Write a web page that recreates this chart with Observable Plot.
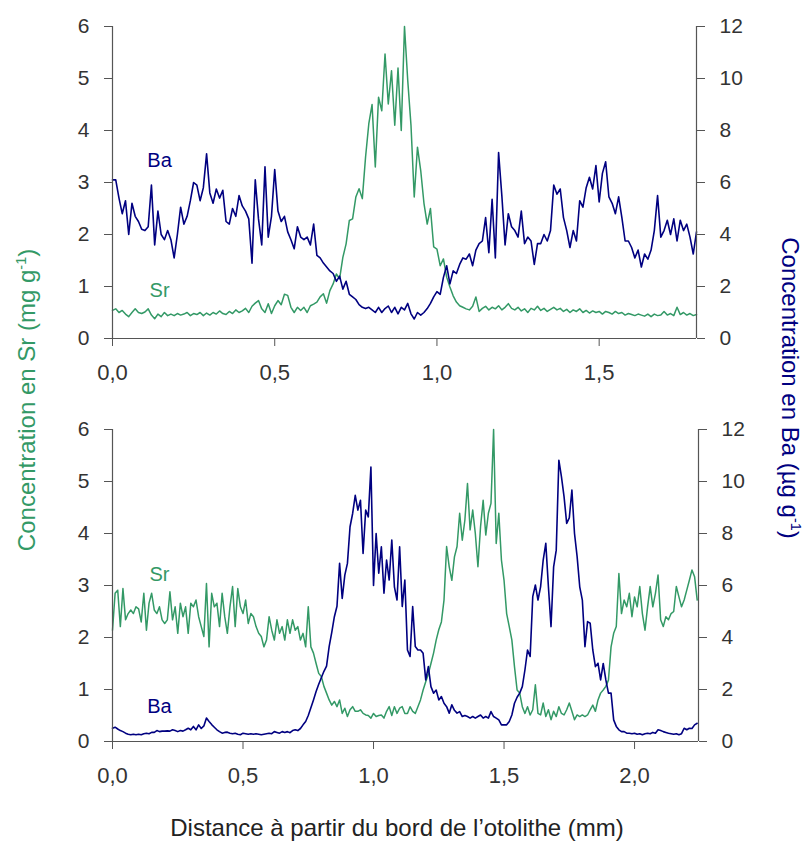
<!DOCTYPE html>
<html>
<head>
<meta charset="utf-8">
<script src="https://cdn.jsdelivr.net/npm/d3@7"></script>
<script src="https://cdn.jsdelivr.net/npm/@observablehq/plot@0.6"></script>
<style>
  body { margin: 0; background: #fff; }
  #chart { position: relative; width: 806px; height: 845px; font-family: "Liberation Sans", Arial, sans-serif; background: #fff; }
  .panel { position: absolute; left: 0; }
  .title { position: absolute; white-space: nowrap; font-size: 24px; line-height: 1; }
  .title sup { font-size: 0.6em; line-height: 0; }
</style>
</head>
<body>
<div id="chart"></div>
<script>
// Sampling step along the transect (mm)
const STEP = 0.01;

// ---- Top panel: Sr (mg/g) and Ba (µg/g), 0 – 1.8 mm ----
const srTop = [
  0.54,0.57,0.50,0.54,0.47,0.42,0.50,0.57,0.50,0.48,
  0.51,0.57,0.45,0.38,0.47,0.42,0.50,0.44,0.47,0.44,
  0.48,0.45,0.47,0.50,0.44,0.48,0.46,0.50,0.44,0.49,
  0.45,0.50,0.47,0.53,0.48,0.46,0.52,0.48,0.55,0.50,
  0.53,0.58,0.50,0.62,0.68,0.73,0.57,0.50,0.67,0.48,
  0.63,0.73,0.65,0.85,0.83,0.60,0.50,0.60,0.54,0.60,
  0.50,0.63,0.66,0.70,0.80,0.86,0.68,0.92,1.05,1.24,
  1.15,1.56,1.82,2.27,2.30,2.72,2.88,2.69,3.49,4.13,
  4.50,3.30,4.64,4.38,5.47,4.51,5.15,4.10,5.20,4.00,
  6.00,4.96,4.10,2.72,3.68,3.23,2.60,2.20,2.50,1.76,
  1.72,1.40,1.53,1.18,0.99,0.82,0.70,0.63,0.60,0.57,
  0.55,0.62,0.80,0.52,0.58,0.62,0.55,0.60,0.57,0.63,
  0.55,0.60,0.67,0.58,0.55,0.60,0.53,0.57,0.50,0.58,
  0.55,0.62,0.54,0.58,0.52,0.56,0.60,0.55,0.58,0.52,
  0.56,0.50,0.55,0.52,0.57,0.50,0.54,0.49,0.53,0.50,
  0.52,0.47,0.52,0.50,0.47,0.52,0.48,0.50,0.45,0.48,
  0.46,0.44,0.47,0.45,0.43,0.47,0.42,0.47,0.44,0.45,
  0.52,0.45,0.48,0.44,0.60,0.46,0.50,0.45,0.48,0.44,
  0.46
];
const baTop = [
  6.1,6.1,5.4,4.8,5.3,4.0,5.2,4.7,4.5,4.2,
  4.15,4.3,5.9,3.6,4.9,4.0,3.8,4.15,3.8,3.1,
  4.0,5.05,4.4,4.7,5.3,6.0,5.9,5.3,5.8,7.1,
  5.6,5.2,5.75,5.4,5.7,4.5,4.4,5.0,4.7,5.5,
  5.1,4.9,4.6,2.9,6.1,4.6,3.6,6.6,3.9,4.7,
  6.5,4.9,4.5,4.7,4.1,3.8,3.45,4.3,3.9,3.8,
  3.9,3.6,4.4,3.2,3.1,2.9,2.75,2.6,2.5,2.2,
  2.4,1.9,2.2,1.7,1.6,1.5,1.3,1.2,1.15,1.2,
  1.1,1.0,1.2,1.0,1.15,1.25,1.0,1.2,0.95,1.2,
  1.1,1.35,0.95,0.75,1.0,0.9,1.0,1.15,1.35,1.6,
  1.8,1.7,2.35,2.8,2.1,2.6,2.5,2.85,3.1,3.05,
  3.25,2.8,3.4,3.65,3.75,4.65,3.3,5.35,3.1,7.15,
  5.5,3.6,4.8,4.3,4.15,3.9,4.9,3.65,3.9,3.75,
  2.85,3.65,3.65,4.0,3.75,4.15,5.9,5.55,5.75,4.65,
  4.15,3.5,4.15,3.75,5.3,5.05,5.8,6.2,5.75,6.65,
  5.25,6.35,6.8,5.45,5.2,4.8,5.45,4.65,3.75,3.75,
  3.5,3.1,3.4,2.75,3.25,3.05,3.4,4.15,5.5,3.9,
  4.15,4.55,4.0,4.6,3.75,4.55,4.15,4.4,3.9,3.25,
  4.1
];

// ---- Bottom panel: Sr (mg/g) and Ba (µg/g), 0 – 2.24 mm ----
const srBottom = [
  2.14,2.85,2.91,2.21,2.94,2.34,2.46,2.53,2.46,2.59,
  2.55,2.30,2.85,2.14,2.66,2.85,2.53,2.46,2.59,2.34,
  2.27,2.34,2.88,2.34,2.59,2.08,2.66,2.40,2.59,2.08,
  2.66,2.59,2.72,2.40,2.21,2.02,3.04,1.82,2.85,2.59,
  2.66,2.21,2.85,2.40,2.08,2.59,2.98,2.21,2.94,2.59,
  2.46,2.72,2.27,2.46,2.40,2.21,2.08,2.02,1.82,1.95,
  2.40,2.14,1.95,2.34,2.08,2.21,1.95,2.34,2.08,2.34,
  2.14,2.21,1.95,2.08,1.82,2.59,1.82,1.70,1.50,1.31,
  1.25,1.06,0.93,0.80,0.70,0.77,0.67,0.80,0.54,0.64,
  0.48,0.61,0.67,0.58,0.58,0.61,0.54,0.51,0.50,0.45,
  0.54,0.48,0.50,0.51,0.45,0.58,0.67,0.50,0.67,0.54,
  0.64,0.67,0.54,0.54,0.67,0.58,0.54,0.67,0.80,0.99,
  1.15,1.30,1.50,1.70,1.95,2.15,2.30,2.72,3.75,3.36,
  3.10,3.55,3.75,4.39,3.87,4.26,4.96,4.07,4.45,4.00,
  3.36,4.13,4.64,3.97,4.39,4.58,6.00,3.81,4.39,3.49,
  3.10,2.46,2.21,1.95,1.44,0.99,0.93,0.67,0.54,0.67,
  0.51,0.61,1.09,0.54,0.51,0.74,0.48,0.61,0.42,0.58,
  0.48,0.67,0.54,0.51,0.61,0.74,0.58,0.42,0.51,0.48,
  0.51,0.48,0.51,0.61,0.70,0.58,0.80,0.93,0.99,1.06,
  1.18,1.82,2.08,2.21,3.23,2.46,2.72,2.59,2.85,2.40,
  2.78,2.59,2.98,2.46,2.14,2.59,2.98,2.59,2.85,3.20,
  2.34,2.21,2.40,2.34,2.46,2.50,2.98,2.78,2.59,2.72,
  2.91,3.10,3.30,3.17,2.72
];
const baBottom = [
  0.51,0.55,0.48,0.42,0.38,0.32,0.28,0.26,0.28,0.26,
  0.28,0.26,0.30,0.32,0.30,0.35,0.35,0.42,0.38,0.40,
  0.40,0.41,0.40,0.45,0.42,0.38,0.42,0.40,0.45,0.51,
  0.45,0.58,0.45,0.64,0.50,0.60,0.90,0.77,0.65,0.55,
  0.45,0.38,0.32,0.35,0.36,0.32,0.30,0.32,0.28,0.26,
  0.32,0.30,0.28,0.30,0.28,0.30,0.28,0.26,0.28,0.30,
  0.32,0.30,0.38,0.35,0.32,0.38,0.35,0.38,0.34,0.42,
  0.45,0.42,0.50,0.64,0.77,1.00,1.30,1.60,1.92,2.20,
  2.45,2.70,2.90,3.65,4.20,4.80,5.20,6.85,5.50,6.40,
  6.85,8.26,8.77,9.47,8.90,9.28,7.23,8.90,8.64,10.56,
  6.00,8.00,6.47,7.49,5.70,6.98,6.21,7.75,5.95,5.44,
  7.49,5.19,6.21,3.52,3.27,5.19,3.65,3.52,3.52,3.39,
  2.37,2.88,2.11,1.86,1.98,1.60,1.73,1.47,1.34,1.09,
  1.41,1.20,1.09,1.15,0.96,1.00,0.96,0.90,0.96,0.90,
  0.96,1.02,0.90,0.96,0.90,1.15,0.96,0.90,0.83,0.64,
  0.64,0.64,0.77,1.02,1.47,1.70,1.86,2.11,2.75,3.52,
  3.27,5.57,6.02,5.44,5.95,6.98,7.62,5.95,4.42,6.72,
  7.36,10.82,10.18,9.41,8.39,8.60,9.67,8.00,7.11,5.95,
  5.44,3.65,4.61,4.55,3.52,2.88,3.01,2.37,3.00,2.37,
  1.86,1.86,0.83,0.58,0.45,0.38,0.38,0.32,0.32,0.30,
  0.32,0.28,0.30,0.26,0.30,0.32,0.30,0.35,0.32,0.45,
  0.42,0.38,0.35,0.32,0.30,0.28,0.30,0.26,0.30,0.51,
  0.45,0.51,0.50,0.64,0.70
];

// Tick values
const srTicks = [0, 1, 2, 3, 4, 5, 6];
const baTicks = [0, 2, 4, 6, 8, 10, 12];
const xTicksTop = [0, 0.5, 1.0, 1.5];
const xTicksBottom = [0, 0.5, 1.0, 1.5, 2.0];
const xMaxTop = 1.8;
const xMaxBottom = 2.245;

// Series name annotations (in data coordinates, Sr scale)
const annTop = [{name: "Ba", x: 0.145, y: 3.42}, {name: "Sr", x: 0.145, y: 0.92}];
const annBottom = [{name: "Sr", x: 0.18, y: 3.21}, {name: "Ba", x: 0.18, y: 0.67}];

const GREEN = "#339966";
const NAVY = "#000080";
const AXIS = "#555";
const TEXT = "#333";
const BA_RATIO = 2; // Ba axis (0–12) vs Sr axis (0–6)

const fmtX = d => d.toFixed(1).replace(".", ",");

function panel({sr, ba, xMax, xTicks, ann, height, marginTop, marginBottom, marginLeft, marginRight}) {
  const srData = sr.map((v, i) => ({x: i * STEP, y: v}));
  const baData = ba.map((v, i) => ({x: i * STEP, y: v / BA_RATIO}));
  return Plot.plot({
    width: 806, height, marginTop, marginBottom, marginLeft, marginRight,
    style: {background: "transparent", fontFamily: "'Liberation Sans', Arial, sans-serif", color: TEXT},
    x: {domain: [0, xMax]},
    y: {domain: [0, 6]},
    marks: [
      Plot.line(srData, {x: "x", y: "y", stroke: GREEN, strokeWidth: 1.5}),
      Plot.line(baData, {x: "x", y: "y", stroke: NAVY, strokeWidth: 1.6}),
      Plot.ruleX([0, xMax], {stroke: AXIS, strokeWidth: 1.2}),
      Plot.ruleY([0], {stroke: AXIS, strokeWidth: 1.2}),
      Plot.axisY({ticks: srTicks, anchor: "left", tickFormat: d => String(d), tickSize: 8, tickPadding: 15, fontSize: 21, stroke: AXIS, label: null}),
      Plot.axisY({ticks: baTicks.map(d => d / BA_RATIO), anchor: "right", tickFormat: d => String(d * BA_RATIO), tickSize: 8, tickPadding: 15, fontSize: 21, stroke: AXIS, label: null}),
      Plot.axisX({ticks: xTicks, anchor: "bottom", tickFormat: fmtX, tickSize: 8, tickPadding: 18, fontSize: 22, stroke: AXIS, label: null}),
      Plot.text(ann.filter(d => d.name === "Ba"), {x: "x", y: "y", text: "name", fill: NAVY, fontSize: 20}),
      Plot.text(ann.filter(d => d.name === "Sr"), {x: "x", y: "y", text: "name", fill: GREEN, fontSize: 20})
    ]
  });
}

const chart = document.getElementById("chart");

const top1 = panel({sr: srTop, ba: baTop, xMax: xMaxTop, xTicks: xTicksTop, ann: annTop,
  height: 395, marginTop: 26, marginBottom: 57, marginLeft: 112, marginRight: 110});
top1.classList.add("panel");
top1.style.top = "0px";
chart.appendChild(top1);

const bot1 = panel({sr: srBottom, ba: baBottom, xMax: xMaxBottom, xTicks: xTicksBottom, ann: annBottom,
  height: 400, marginTop: 34, marginBottom: 54, marginLeft: 112, marginRight: 108});
bot1.classList.add("panel");
bot1.style.top = "395px";
chart.appendChild(bot1);

function addTitle(html, x, y, rot, color) {
  const d = document.createElement("div");
  d.className = "title";
  d.innerHTML = html;
  d.style.left = x + "px";
  d.style.top = y + "px";
  d.style.color = color;
  d.style.transform = `translate(-50%, -50%) rotate(${rot}deg)`;
  chart.appendChild(d);
}
addTitle("Concentration en Sr (mg g<sup>-1</sup>)", 27, 400, -90, GREEN);
addTitle("Concentration en Ba (µg g<sup>-1</sup>)", 790, 388, 90, NAVY);
addTitle("Distance à partir du bord de l’otolithe (mm)", 397, 828, 0, "#222");
</script>
</body>
</html>
